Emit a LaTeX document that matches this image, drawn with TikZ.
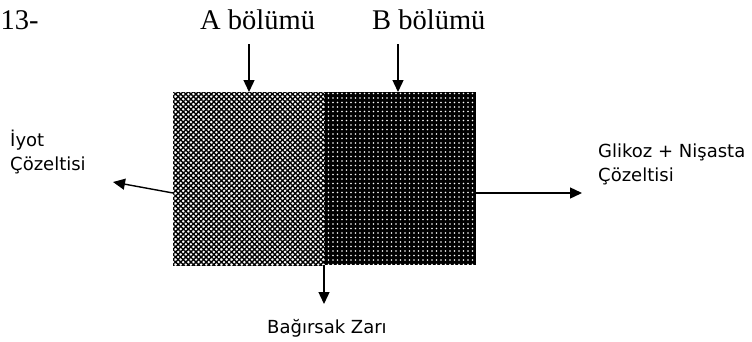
\documentclass[tikz,border=0pt]{standalone}
\usepackage{fontspec}
\setmainfont{Liberation Serif}
\newfontfamily\lblfont{DejaVu Sans}
\usetikzlibrary{patterns.meta,arrows.meta}
\begin{document}
\begin{tikzpicture}[x=1pt,y=-1pt,
  arr/.style={line width=1.4pt,-{Triangle[length=12pt,width=11pt]}},
  ttl/.style={font=\fontsize{28.5}{30}\selectfont,inner sep=0pt,anchor=base west},
  lbl/.style={font=\lblfont\fontsize{18}{24}\selectfont,inner sep=0pt,anchor=base west,align=left},
  part/.style={minimum height=173pt,inner sep=0pt,outer sep=0pt}]
\useasboundingbox (0,0) rectangle (752,341);
% membrane parts
\node[part,minimum width=151pt,pattern={Lines[angle=45,distance=3.6pt,line width=1.4pt]},pattern color=black] (A) at (248.5,178.5) {};
\node[part,minimum width=151pt,pattern={Lines[angle=-45,distance=3.6pt,line width=1.4pt]},pattern color=black] (A2) at (248.5,178.5) {};
\node[part,minimum width=152pt,fill=black] (B) at (400,178.5) {};
\node[part,minimum width=152pt,pattern={Dots[distance=4.5pt,radius=0.8pt]},pattern color=white] (B2) at (400,178.5) {};
% texts
\node[ttl] (n13) at (0.5,29) {13-};
\node[ttl] (tA) at (200,29) {A bölümü};
\node[ttl] (tB) at (372,29) {B bölümü};
\node[lbl] (iyot) at (10,170) {İyot\\Çözeltisi};
\node[lbl] (glk) at (598,181) {Glikoz + Nişasta\\Çözeltisi};
\node[lbl] (zar) at (267,333) {Bağırsak Zarı};
% arrow ends
\coordinate (aA) at (249,44);
\coordinate (aB) at (398,44);
\coordinate (iyA) at (113,182);
\coordinate (glA) at (582,193);
\coordinate (zA) at (324,304);
\draw[arr] (aA) -- (aA |- A.north);
\draw[arr] (aB) -- (aB |- B.north);
\draw[arr] ([yshift=-14.5pt]A.west) -- (iyA);
\draw[arr] ([yshift=-14.5pt]B.east) -- (glA);
\draw[arr] (A.south east) -- (zA);
\end{tikzpicture}
\end{document}
